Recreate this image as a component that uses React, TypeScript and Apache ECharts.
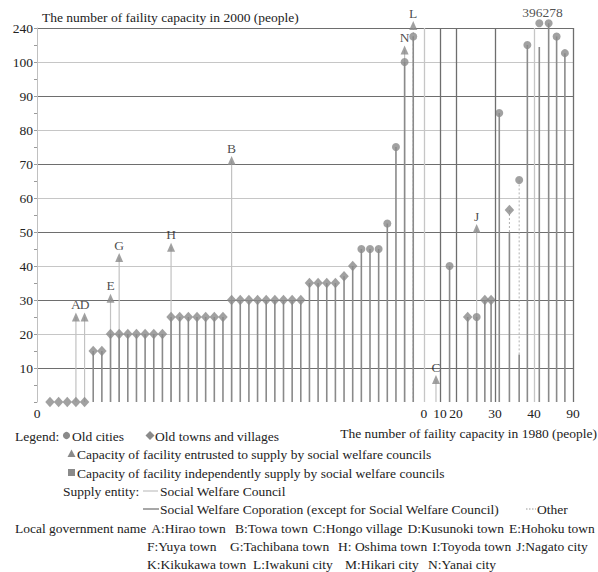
import React, { useEffect, useRef } from "react";
import * as echarts from "echarts";

const FONT = '"Liberation Serif", "Times New Roman", serif';
const TEXT = "#222";
const MARK = "#8a8a8a";

// ---- DATA ----
// Left part: municipalities with no capacity in 1980, sorted by 2000 capacity
const left2000 = [
  0, 0, 0, 0, 0, 15, 15, 20, 20, 20, 20, 20, 20, 20, 25, 25, 25, 25, 25, 25, 25,
  30, 30, 30, 30, 30, 30, 30, 30, 30, 35, 35, 35, 35, 37, 40, 45, 45, 45, 52.5, 75, 100, 107.5,
];
const leftKind = [
  "town", "town", "town", "town", "town", "town", "town", "town", "town", "town", "town",
  "town", "town", "town", "town", "town", "town", "town", "town", "town", "town", "town",
  "town", "town", "town", "town", "town", "town", "town", "town", "town", "town", "town",
  "town", "town", "town", "city", "city", "city", "city", "city", "city", "city",
];
// Capacity entrusted to social welfare councils (left part)
const leftEntrustedName = ["A", "D", "E", "G", "H", "B", "N", "L"];
const leftEntrustedIndex = [3, 4, 7, 8, 14, 21, 41, 42];
const leftEntrustedValue = [25, 25, 30.5, 42.5, 45.5, 71, 103.5, 110.7];
const leftEntrustedStem = ["council", "council", "council", "council", "council", "council", "council", "other"];

// Right part: municipalities with capacity in 1980
const right1980 = [16, 23, 25.3, 27.4, 29, 31.1, 33.7, 36.2, 38.3, 46.8, 58.8, 69, 79.6];
const right2000 = [40, 25, 25, 30, 30, 85, 56.5, 65.3, 105, 396, 278, 107.5, 102.6];
const rightKind = ["city", "town", "city", "town", "town", "city", "town", "city", "city", "city", "city", "city", "city"];
const rightStem = ["corp", "corp", "corp", "corp", "corp", "corp", "other", "other", "corp", "none", "corp", "corp", "corp"];
const rightCorpPart = [null, null, null, null, null, null, 50, 14, null, 104.4, null, null, null];
const rightEntrustedName = ["C", "J"];
const rightEntrusted1980 = [7.5, 25.3];
const rightEntrustedValue = [6.6, 51];

// Axis ticks
const yTicks = [0, 10, 20, 30, 40, 50, 60, 70, 80, 90, 100, 110];
const yTickLabels = ["", "10", "20", "30", "40", "50", "60", "70", "80", "90", "100", "240"];
const xTicks1980 = [0, 10, 20, 30, 40, 90];

// Legend: local government names
const govRow1 = ["A:Hirao town", "B:Towa town", "C:Hongo village", "D:Kusunoki town", "E:Hohoku town"];
const govRow2 = ["F:Yuya town", "G:Tachibana town", "H: Oshima town", "I:Toyoda town", "J:Nagato city"];
const govRow3 = ["K:Kikukawa town", "L:Iwakuni city", "M:Hikari city", "N:Yanai city"];

// ---- LAYOUT (broken axes) ----
const FIRST_SLOT = 1.5; // axis position of first left item
const BREAK_U = [44.74, 46.59, 48.44, 52.95, 57.46, 61.97]; // axis positions of xTicks1980
const X_MAX = 61.97;
const Y_OVER = 111.4; // where values beyond the 240 break are drawn
const FS = 13.5;

const toU = (v: number) => {
  for (let i = 0; i < xTicks1980.length - 1; i++) {
    const a = xTicks1980[i], b = xTicks1980[i + 1];
    if (v <= b || i === xTicks1980.length - 2) {
      return BREAK_U[i] + ((v - a) / (b - a)) * (BREAK_U[i + 1] - BREAK_U[i]);
    }
  }
  return BREAK_U[0];
};
const disp = (v: number) => (v > 240 ? Y_OVER : v);
const leftU = (i: number) => FIRST_SLOT + i;

const STEM_KEYS = ["corp", "council", "other"];
const STEM_STYLE: any[] = [
  { stroke: "#8a8a8a", lineWidth: 1.6 },
  { stroke: "#c2c2c2", lineWidth: 1.2 },
  { stroke: "#b0b0b0", lineWidth: 1, lineDash: [2, 2] },
];

let measureCtx: CanvasRenderingContext2D | null = null;
const textWidth = (s: string) => {
  if (!measureCtx) measureCtx = document.createElement("canvas").getContext("2d");
  if (!measureCtx) return s.length * 6.5;
  measureCtx.font = `${FS}px ${FONT}`;
  return measureCtx.measureText(s).width;
};

function buildOption() {
  const stems: number[][] = [];
  leftEntrustedIndex.forEach((idx, k) => {
    stems.push([leftU(idx), 0, leftEntrustedValue[k], STEM_KEYS.indexOf(leftEntrustedStem[k])]);
  });
  rightEntrusted1980.forEach((x, k) => {
    stems.push([toU(x), 0, rightEntrustedValue[k], 1]);
  });
  left2000.forEach((v, i) => {
    if (v > 0) stems.push([leftU(i), 0, v, 0]);
  });
  right1980.forEach((x, i) => {
    const u = toU(x);
    const part = rightCorpPart[i];
    if (part != null) stems.push([u, 0, part, 0]);
    if (rightStem[i] !== "none") {
      stems.push([u, part ?? 0, disp(right2000[i]), STEM_KEYS.indexOf(rightStem[i])]);
    }
  });

  const towns: any[] = [];
  const cities: any[] = [];
  left2000.forEach((v, i) => {
    (leftKind[i] === "city" ? cities : towns).push([leftU(i), v]);
  });
  right1980.forEach((x, i) => {
    const v = right2000[i];
    const item: any = { value: [toU(x), disp(v)] };
    if (v > 240) {
      item.label = {
        show: true,
        position: "top",
        distance: 0,
        formatter: String(v),
        offset: [v === 396 ? -7 : 4, 0],
        fontFamily: FONT,
        fontSize: FS,
        color: TEXT,
      };
    }
    (rightKind[i] === "city" ? cities : towns).push(item);
  });

  const triangles: any[] = [];
  leftEntrustedIndex.forEach((idx, k) => {
    triangles.push({ name: leftEntrustedName[k], value: [leftU(idx), leftEntrustedValue[k]] });
  });
  rightEntrusted1980.forEach((x, k) => {
    triangles.push({ name: rightEntrustedName[k], value: [toU(x), rightEntrustedValue[k]] });
  });

  const gridColors = yTicks.map((t, i) => (i === 0 ? "rgba(0,0,0,0)" : i % 2 === 1 ? "#6e6e6e" : "#c6c6c6"));
  const vColors = ["#c6c6c6", "#6e6e6e", "#6e6e6e", "#6e6e6e", "#c6c6c6", "#6e6e6e"];

  const xLabelPos = [0, ...xTicks1980.map(toU)];
  const xLabelText = ["0", ...xTicks1980.map(String)];

  const txt = (x: number, y: number, text: string, align = "left") => ({
    type: "text",
    x,
    y,
    silent: true,
    style: { text, fontFamily: FONT, fontSize: FS, fill: TEXT, align, verticalAlign: "middle" },
  });

  // lay out a row of texts at preferred x positions without overlap
  const row = (y: number, xs: number[], texts: string[]) => {
    const out: any[] = [];
    let end = -Infinity;
    texts.forEach((t, i) => {
      const x = Math.max(xs[i], end + 5);
      out.push(txt(x, y, t));
      end = x + textWidth(t);
    });
    return out;
  };

  const graphic: any[] = [
    txt(42, 17, "The number of faility capacity in 2000 (people)"),
    txt(597, 433, "The number of faility capacity in 1980 (people)", "right"),
    txt(15, 436, "Legend:"),
    { type: "circle", shape: { cx: 66.5, cy: 435.5, r: 3.6 }, style: { fill: MARK } },
    txt(72, 436, "Old cities"),
    { type: "polygon", shape: { points: [[150, 431], [154.5, 435.5], [150, 440], [145.5, 435.5]] }, style: { fill: MARK } },
    txt(155, 436, "Old towns and villages"),
    { type: "polygon", shape: { points: [[71.5, 449.5], [75.5, 457], [67.5, 457]] }, style: { fill: MARK } },
    txt(77, 454, "Capacity of facility entrusted to supply by social welfare councils"),
    { type: "rect", shape: { x: 68, y: 469, width: 7, height: 7 }, style: { fill: MARK } },
    txt(77, 473, "Capacity of facility independently supply by social welfare councils"),
    txt(63, 491, "Supply entity:"),
    { type: "line", shape: { x1: 143, y1: 491, x2: 158, y2: 491 }, style: { stroke: "#c2c2c2", lineWidth: 1.2 } },
    txt(160, 491, "Social Welfare Council"),
    { type: "line", shape: { x1: 143, y1: 509, x2: 159, y2: 509 }, style: { stroke: "#8a8a8a", lineWidth: 1.5 } },
    txt(160, 509, "Social Welfare Coporation (except for Social Welfare Council)"),
    { type: "line", shape: { x1: 526, y1: 509, x2: 536, y2: 509 }, style: { stroke: "#999", lineWidth: 1, lineDash: [1.5, 1.5] } },
    txt(537, 509, "Other"),
    ...row(528, [15, 138, 235, 310, 401, 495], ["Local government name", ...govRow1]),
    ...row(546, [147, 230, 338, 416, 488], govRow2),
    ...row(564, [147, 253, 345, 428], govRow3),
  ];

  return {
    animation: false,
    backgroundColor: "#fff",
    textStyle: { fontFamily: FONT },
    grid: { left: 37, right: 25, top: 28, bottom: 170, containLabel: false },
    xAxis: {
      type: "value",
      min: 0,
      max: X_MAX,
      axisLine: { show: false },
      axisTick: { show: false },
      splitLine: { show: false },
      axisLabel: {
        customValues: xLabelPos,
        formatter: (val: number) => {
          const i = xLabelPos.findIndex((p) => Math.abs(p - val) < 1e-6);
          return i >= 0 ? xLabelText[i] : "";
        },
        fontFamily: FONT,
        fontSize: FS,
        color: TEXT,
        margin: 4,
      },
    },
    yAxis: {
      type: "value",
      min: 0,
      max: 110,
      interval: 10,
      axisLine: { show: true, lineStyle: { color: "#c0c0c0", width: 1 } },
      axisTick: { show: true, length: 3, lineStyle: { color: "#9a9a9a" } },
      minorTick: { show: true, splitNumber: 2, length: 3, lineStyle: { color: "#9a9a9a" } },
      splitLine: { show: true, lineStyle: { color: gridColors, width: 1.2 } },
      axisLabel: {
        formatter: (v: number) => {
          const i = yTicks.indexOf(v);
          return i >= 0 ? yTickLabels[i] : "";
        },
        fontFamily: FONT,
        fontSize: FS,
        color: TEXT,
        margin: 4,
      },
    },
    graphic,
    series: [
      {
        type: "custom",
        z: 2,
        clip: false,
        silent: true,
        encode: { x: 0, y: [1, 2] },
        data: stems,
        renderItem: (params: any, api: any) => {
          const p1 = api.coord([api.value(0), api.value(1)]);
          const p2 = api.coord([api.value(0), api.value(2)]);
          const st = STEM_STYLE[api.value(3)];
          return {
            type: "line",
            shape: { x1: p1[0], y1: p1[1], x2: p2[0], y2: p2[1] },
            style: { ...st, fill: null },
          };
        },
        markLine: {
          silent: true,
          symbol: "none",
          label: { show: false },
          data: xTicks1980.map((t, i) => ({
            xAxis: toU(t),
            lineStyle: { color: vColors[i], width: 1.3, type: "solid" },
          })),
        },
      },
      {
        type: "scatter",
        z: 3,
        clip: false,
        symbol: "diamond",
        symbolSize: [9.5, 10.5],
        itemStyle: { color: MARK },
        data: towns,
      },
      {
        type: "scatter",
        z: 3,
        clip: false,
        symbol: "circle",
        symbolSize: 8,
        itemStyle: { color: MARK },
        data: cities,
      },
      {
        type: "scatter",
        z: 3,
        clip: false,
        symbol: "triangle",
        symbolSize: [8, 9],
        itemStyle: { color: MARK },
        label: {
          show: true,
          position: "top",
          distance: 1,
          formatter: "{b}",
          fontFamily: FONT,
          fontSize: FS,
          color: TEXT,
        },
        data: triangles,
      },
    ],
  };
}

export default function App() {
  const ref = useRef<HTMLDivElement>(null);
  useEffect(() => {
    const chart = echarts.init(ref.current!, null, { renderer: "svg" });
    chart.setOption(buildOption() as any);
    return () => chart.dispose();
  }, []);
  return (
    <div
      ref={ref}
      style={{ position: "fixed", left: 0, top: 0, width: 598, height: 572, background: "#fff" }}
    />
  );
}
